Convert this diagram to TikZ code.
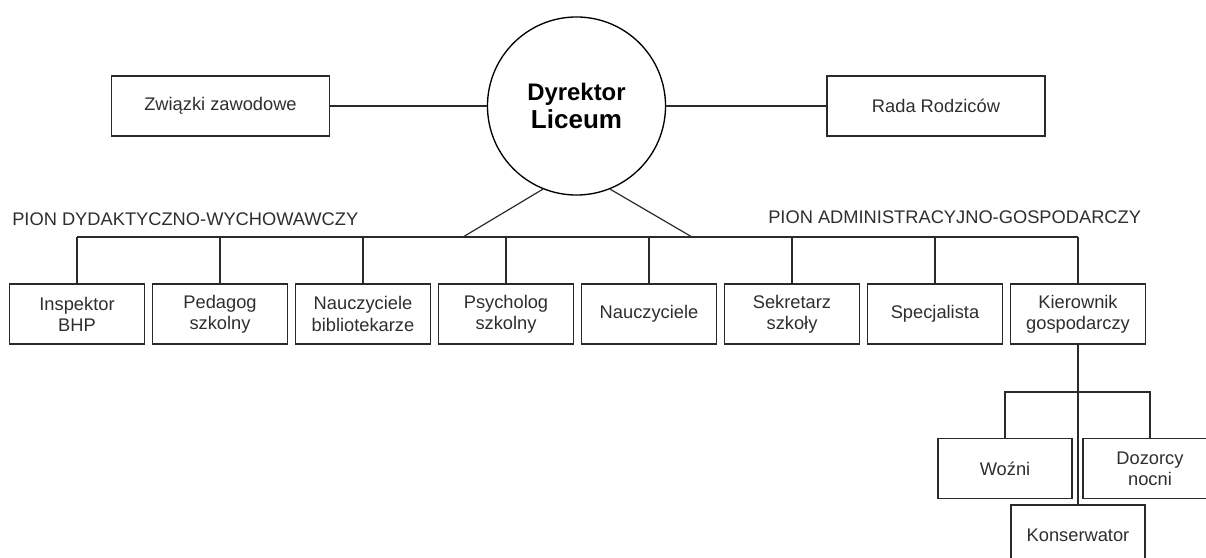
\documentclass[tikz,border=0pt]{standalone}
\usepackage{fontspec}
\setmainfont{Liberation Sans}
\usepackage{tikz}
\definecolor{linegray}{HTML}{2A2A2A}
\definecolor{textgray}{HTML}{2E2E2E}

\begin{document}
\begin{tikzpicture}[x=0.025cm, y=-0.025cm,
    link/.style={draw=linegray, line width=0.85pt},
    unit/.style={link, minimum width=3.375cm, minimum height=1.5cm, inner sep=1pt,
      align=center, text=textgray, font=\fontsize{13}{15}\selectfont},
    wideunit/.style={unit, minimum width=5.45cm},
    pion/.style={anchor=base west, inner sep=0pt, text=textgray, font=\fontsize{13}{15}\selectfont}]
    \useasboundingbox (0,0) rectangle (1206,558);
    \clip (0,0) rectangle (1206,558);

    \node[circle, draw=black, line width=0.95pt, minimum size=4.45cm, inner sep=0pt, align=center,
      font=\bfseries\fontsize{18}{19.5}\selectfont] (dyr) at (576.5,106)
      {{\fontsize{17}{19.5}\selectfont Dyrektor}\\{\fontsize{18.5}{19.5}\selectfont Liceum}};
    \node[wideunit] (zw) at (220.5,106) {Związki zawodowe};
    \node[wideunit] (rada) at (936,106) {Rada Rodziców};
    \draw[link] (zw) -- (dyr);
    \draw[link] (dyr) -- (rada);

    \node[pion] (piond) at (12,225) {PION DYDAKTYCZNO-WYCHOWAWCZY};
    \node[pion] (piona) at (768,223) {PION ADMINISTRACYJNO-GOSPODARCZY};

    \coordinate (bus) at (0,237);
    \coordinate (busl) at (463,237);
    \coordinate (busr) at (692,237);
    \foreach \px/\nm/\txt in {77/insp/{Inspektor\\BHP}, 220/ped/{Pedagog\\szkolny},
        363/bib/{Nauczyciele\\bibliotekarze}, 506/psych/{Psycholog\\szkolny},
        649/naucz/{Nauczyciele}, 792/sekr/{Sekretarz\\szkoły},
        935/spec/{Specjalista}, 1078/kier/{Kierownik\\gospodarczy}}
      {
        \node[unit] (\nm) at (\px,314) {\txt};
        \draw[link] (\nm.north) -- (\nm.north |- bus);
      }
    \draw[link] (insp.north |- bus) -- (kier.north |- bus);
    \draw[link] (dyr.248) -- (busl);
    \draw[link] (dyr.292) -- (busr);

    \coordinate (sub) at (0,392);
    \node[unit, minimum width=3.35cm] (wozni) at (1005,468.5) {Woźni};
    \node[unit, minimum width=3.35cm] (dozor) at (1150,468.5) {Dozorcy\\nocni};
    \node[unit, minimum width=3.35cm] (kons) at (1078,535) {Konserwator};
    \draw[link] (kier.south) -- (kons.north);
    \draw[link] (wozni.north) -- (wozni.north |- sub) -- (dozor.north |- sub) -- (dozor.north);
  \end{tikzpicture}
\end{document}
